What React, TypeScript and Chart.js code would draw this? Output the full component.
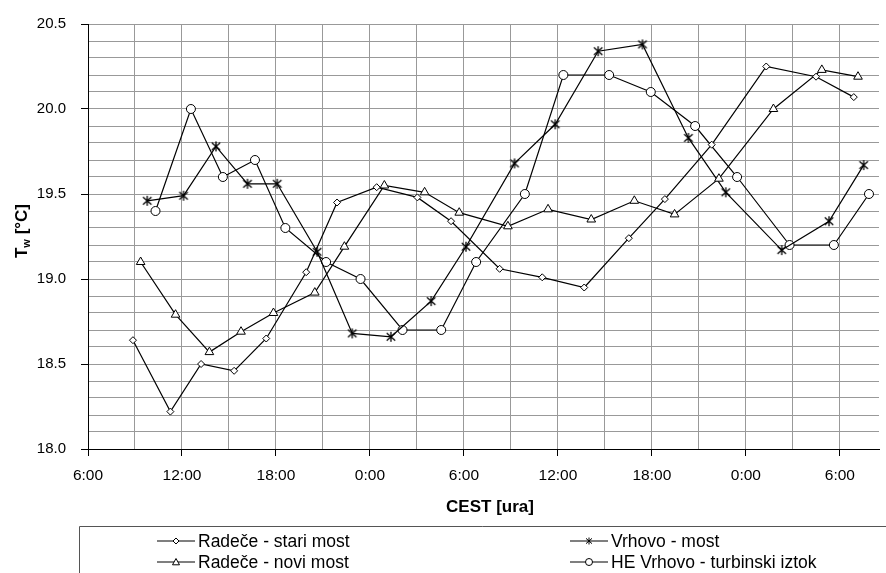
import React, { useEffect, useRef } from 'react';
import { Chart, registerables } from 'chart.js';

Chart.register(...registerables);

// Series names
const seriesNames = [
  'Radeče - stari most',
  'Radeče - novi most',
  'Vrhovo - most',
  'HE Vrhovo - turbinski iztok',
];

// Time in hours counted from 0:00 of the first day; temperature in °C
const stariHours = [8.87, 11.26, 13.22, 15.33, 17.38, 19.93, 21.9, 24.43, 27.03, 29.18, 32.28, 35.0, 37.68, 40.53, 42.83, 45.82, 49.3, 52.48, 54.89];
const stariTemp = [18.64, 18.22, 18.5, 18.46, 18.65, 19.04, 19.45, 19.54, 19.48, 19.34, 19.06, 19.01, 18.95, 19.24, 19.47, 19.79, 20.25, 20.19, 20.07];

const noviHours = [9.36, 11.59, 13.75, 15.77, 17.84, 20.48, 22.37, 24.92, 27.49, 29.7, 32.81, 35.37, 38.13, 40.88, 43.45, 46.28, 49.76, 52.85, 55.16];
const noviTemp = [19.1, 18.79, 18.57, 18.69, 18.8, 18.92, 19.19, 19.55, 19.51, 19.39, 19.31, 19.41, 19.35, 19.46, 19.38, 19.59, 20.0, 20.23, 20.19];

const vrhovoHours = [9.78, 12.1, 14.17, 16.18, 18.08, 20.63, 22.87, 25.34, 27.91, 30.13, 33.23, 35.83, 38.57, 41.4, 44.33, 46.72, 50.29, 53.31, 55.52];
const vrhovoTemp = [19.46, 19.49, 19.78, 19.56, 19.56, 19.16, 18.68, 18.66, 18.87, 19.19, 19.68, 19.91, 20.34, 20.38, 19.83, 19.51, 19.17, 19.34, 19.67];

const heHours = [10.31, 12.57, 14.61, 16.66, 18.6, 21.2, 23.4, 26.08, 28.55, 30.78, 33.89, 36.35, 39.27, 41.93, 44.76, 47.44, 50.79, 53.62, 55.86];
const heTemp = [19.4, 20.0, 19.6, 19.7, 19.3, 19.1, 19.0, 18.7, 18.7, 19.1, 19.5, 20.2, 20.2, 20.1, 19.9, 19.6, 19.2, 19.2, 19.5];

// Axis settings / tick labels
const xMin = 6;
const xMax = 56.5;
const xGridStep = 3;
const xLabelStep = 6;
const xTickLabels = ['0:00', '6:00', '12:00', '18:00'];
const yMin = 18.0;
const yMax = 20.5;
const yGridStep = 0.1;
const xTitle = 'CEST [ura]';
const yTitleMain = 'T';
const yTitleSub = 'w';
const yTitleRest = ' [°C]';

const FONT = '"Liberation Sans", Arial, Helvetica, sans-serif';

function makeAsterisk(size: number): HTMLCanvasElement {
  const c = document.createElement('canvas');
  c.width = size;
  c.height = size;
  const g = c.getContext('2d')!;
  const m = size / 2;
  const r = size / 2 - 1;
  g.strokeStyle = '#000';
  g.lineWidth = 1.3;
  g.beginPath();
  g.moveTo(m, m - r);
  g.lineTo(m, m + r);
  g.moveTo(m - r * 0.85, m - r * 0.75);
  g.lineTo(m + r * 0.85, m + r * 0.75);
  g.moveTo(m + r * 0.85, m - r * 0.75);
  g.lineTo(m - r * 0.85, m + r * 0.75);
  g.stroke();
  return c;
}

function drawMarker(ctx: CanvasRenderingContext2D, kind: string, x: number, y: number, r: number) {
  ctx.save();
  ctx.strokeStyle = '#000';
  ctx.fillStyle = '#fff';
  ctx.lineWidth = 1;
  ctx.beginPath();
  if (kind === 'diamond') {
    ctx.moveTo(x, y - r);
    ctx.lineTo(x + r, y);
    ctx.lineTo(x, y + r);
    ctx.lineTo(x - r, y);
    ctx.closePath();
    ctx.fill();
    ctx.stroke();
  } else if (kind === 'triangle') {
    ctx.moveTo(x, y - r);
    ctx.lineTo(x + r, y + r * 0.8);
    ctx.lineTo(x - r, y + r * 0.8);
    ctx.closePath();
    ctx.fill();
    ctx.stroke();
  } else if (kind === 'circle') {
    ctx.arc(x, y, r, 0, Math.PI * 2);
    ctx.fill();
    ctx.stroke();
  } else {
    ctx.moveTo(x, y - r);
    ctx.lineTo(x, y + r);
    ctx.moveTo(x - r * 0.85, y - r * 0.75);
    ctx.lineTo(x + r * 0.85, y + r * 0.75);
    ctx.moveTo(x + r * 0.85, y - r * 0.75);
    ctx.lineTo(x - r * 0.85, y + r * 0.75);
    ctx.stroke();
  }
  ctx.restore();
}

const markerKinds = ['diamond', 'triangle', 'asterisk', 'circle'];

const decorPlugin = {
  id: 'decor',
  afterDraw(chart: any) {
    const ctx: CanvasRenderingContext2D = chart.ctx;
    ctx.save();
    ctx.fillStyle = '#000';
    // X axis title
    ctx.font = `bold 17px ${FONT}`;
    ctx.textAlign = 'center';
    ctx.textBaseline = 'middle';
    ctx.fillText(xTitle, 490, 507);

    // Y axis title with subscript
    ctx.save();
    ctx.translate(21, 231);
    ctx.rotate(-Math.PI / 2);
    ctx.textAlign = 'left';
    ctx.textBaseline = 'alphabetic';
    const fMain = `bold 17px ${FONT}`;
    const fSub = `bold 11px ${FONT}`;
    ctx.font = fMain;
    const w1 = ctx.measureText(yTitleMain).width;
    const w3 = ctx.measureText(yTitleRest).width;
    ctx.font = fSub;
    const w2 = ctx.measureText(yTitleSub).width;
    const total = w1 + w2 + w3;
    let sx = -total / 2;
    const base = 6;
    ctx.font = fMain;
    ctx.fillText(yTitleMain, sx, base);
    sx += w1;
    ctx.font = fSub;
    ctx.fillText(yTitleSub, sx, base + 3);
    sx += w2;
    ctx.font = fMain;
    ctx.fillText(yTitleRest, sx, base);
    ctx.restore();

    // Legend box
    ctx.strokeStyle = '#555';
    ctx.lineWidth = 1;
    ctx.beginPath();
    ctx.moveTo(79.5, 573);
    ctx.lineTo(79.5, 526.5);
    ctx.lineTo(886, 526.5);
    ctx.stroke();

    const cols = [157, 570];
    const rows = [541, 562];
    const order = [0, 2, 1, 3];
    ctx.font = `17.5px ${FONT}`;
    ctx.textAlign = 'left';
    ctx.textBaseline = 'middle';
    order.forEach((si, i) => {
      const cx = cols[i % 2];
      const cy = rows[Math.floor(i / 2)];
      ctx.strokeStyle = '#000';
      ctx.lineWidth = 1.2;
      ctx.beginPath();
      ctx.moveTo(cx, cy);
      ctx.lineTo(cx + 38, cy);
      ctx.stroke();
      const k = markerKinds[si];
      drawMarker(ctx, k, cx + 19, cy, k === 'diamond' ? 3 : 3.5);
      ctx.fillStyle = '#000';
      ctx.fillText(seriesNames[si], cx + 41, cy + 1);
    });
    ctx.restore();
  },
};

function isMultiple(v: number, step: number) {
  const q = v / step;
  return Math.abs(q - Math.round(q)) < 1e-6;
}

export default function App() {
  const ref = useRef<HTMLCanvasElement | null>(null);

  useEffect(() => {
    if (!ref.current) return;
    const star = makeAsterisk(12);
    const toPts = (xs: number[], ys: number[]) => xs.map((x, i) => ({ x, y: ys[i] }));
    const common = {
      borderColor: '#000',
      borderWidth: 1.2,
      backgroundColor: '#fff',
      pointBorderColor: '#000',
      pointBackgroundColor: '#fff',
      pointBorderWidth: 1,
      showLine: true,
      tension: 0,
      fill: false,
    };
    const chart = new Chart(ref.current, {
      type: 'scatter',
      data: {
        datasets: [
          { ...common, label: seriesNames[0], data: toPts(stariHours, stariTemp), pointStyle: 'rectRot', pointRadius: 3.5 },
          { ...common, label: seriesNames[1], data: toPts(noviHours, noviTemp), pointStyle: 'triangle', pointRadius: 5 },
          { ...common, label: seriesNames[2], data: toPts(vrhovoHours, vrhovoTemp), pointStyle: star as any, pointRadius: 6 },
          { ...common, label: seriesNames[3], data: toPts(heHours, heTemp), pointStyle: 'circle', pointRadius: 4.5 },
        ],
      },
      options: {
        responsive: false,
        animation: false,
        layout: { padding: { top: 22, right: 0, left: 0, bottom: 0 } },
        plugins: {
          legend: { display: false },
          tooltip: { enabled: false },
        },
        scales: {
          x: {
            type: 'linear',
            min: xMin,
            max: xMax,
            afterBuildTicks: (scale: any) => {
              const t = [];
              for (let v = xMin; v <= xMax + 1e-9; v += xGridStep) t.push({ value: v });
              scale.ticks = t;
            },
            afterFit: (scale: any) => {
              scale.height = 124;
            },
            grid: {
              color: '#999',
              lineWidth: 1,
              tickLength: 7,
              tickColor: (c: any) => (c.tick && isMultiple(c.tick.value, xLabelStep) ? '#000' : 'rgba(0,0,0,0)'),
            },
            border: { color: '#000', width: 1 },
            ticks: {
              autoSkip: false,
              maxRotation: 0,
              color: '#000',
              padding: 10,
              font: { family: FONT, size: 15.5 },
              callback: (v: any) => {
                const n = Number(v);
                if (!isMultiple(n, xLabelStep)) return '';
                const h = ((Math.round(n) % 24) + 24) % 24;
                return xTickLabels[h / 6];
              },
            },
          },
          y: {
            type: 'linear',
            min: yMin,
            max: yMax,
            afterBuildTicks: (scale: any) => {
              const t = [];
              const n = Math.round((yMax - yMin) / yGridStep);
              for (let i = 0; i <= n; i++) t.push({ value: yMin + i * yGridStep });
              scale.ticks = t;
            },
            afterFit: (scale: any) => {
              scale.width = 88;
            },
            grid: {
              color: '#999',
              lineWidth: 1,
              tickLength: 7,
              tickColor: (c: any) => (c.tick && isMultiple(c.tick.value, 0.5) ? '#000' : 'rgba(0,0,0,0)'),
            },
            border: { color: '#000', width: 1 },
            ticks: {
              autoSkip: false,
              color: '#000',
              padding: 15,
              font: { family: FONT, size: 15 },
              callback: (v: any) => {
                const n = Number(v);
                return isMultiple(n, 0.5) ? n.toFixed(1) : '';
              },
            },
          },
        },
      },
      plugins: [decorPlugin],
    });
    return () => chart.destroy();
  }, []);

  return (
    <div style={{ position: 'fixed', left: 0, top: 0, width: 886, height: 573, background: '#fff' }}>
      <canvas ref={ref} width={886} height={573} style={{ width: 886, height: 573, display: 'block' }} />
    </div>
  );
}
